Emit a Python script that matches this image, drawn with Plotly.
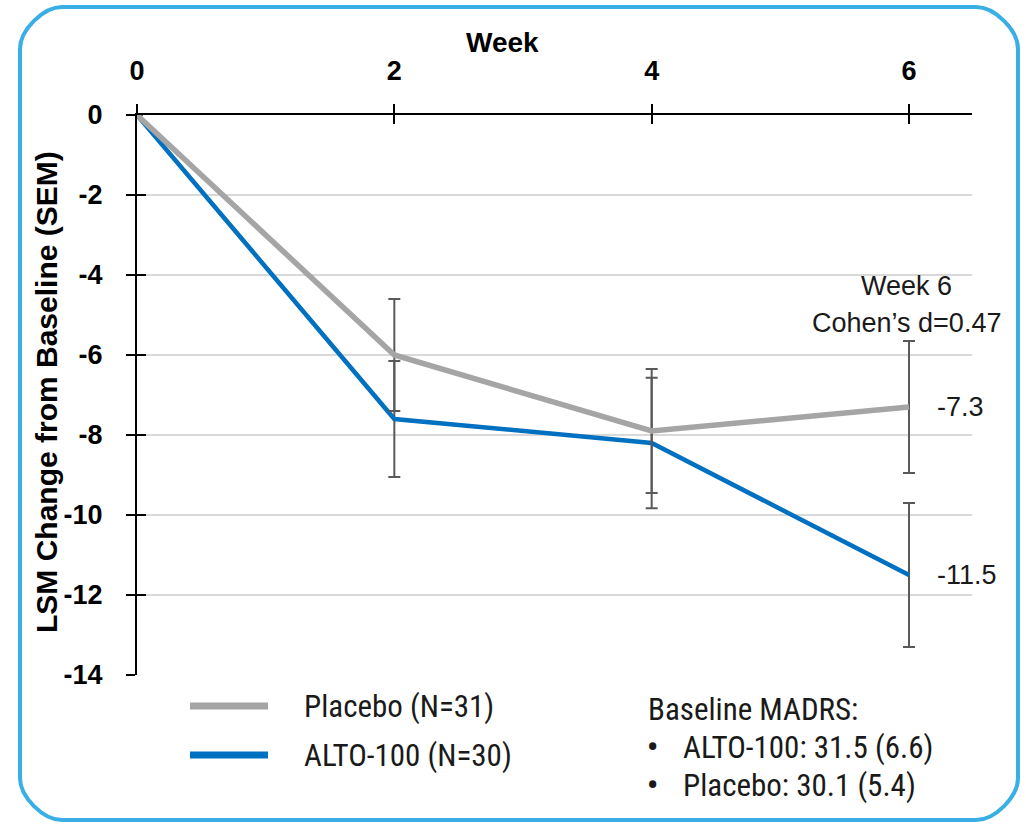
import plotly.graph_objects as go

weeks = [0, 2, 4, 6]
week_labels = ["0", "2", "4", "6"]
placebo = [0, -6.0, -7.9, -7.3]
placebo_sem = [None, 1.4, 1.55, 1.65]
alto = [0, -7.6, -8.2, -11.5]
alto_sem = [None, 1.45, 1.63, 1.8]
y_ticks = [0, -2, -4, -6, -8, -10, -12, -14]
legend_names = ["Placebo (N=31)", "ALTO-100 (N=30)"]
baseline_lines = ["Baseline MADRS:", "ALTO-100: 31.5 (6.6)", "Placebo: 30.1 (5.4)"]

W, H = 1026, 824
L, R, T, B = 137, 972, 115, 675

def px(x):
    return (x - L) / (R - L)

def py(y):
    return (B - y) / (B - T)

GRAY = "#A5A5A5"
BLUE = "#0070C0"
ERR = "#595959"
FONT = "Liberation Sans, Arial, sans-serif"
NARROW = "Liberation Sans Narrow, Roboto Condensed, Liberation Sans, Arial, sans-serif"
TXT = "#1a1a1a"

fig = go.Figure()
fig.add_trace(go.Scatter(
    x=weeks, y=alto, mode="lines", line=dict(color=BLUE, width=4.5),
    error_y=dict(type="data", array=alto_sem, color=ERR, thickness=2, width=6),
    showlegend=False, name=legend_names[1]))
fig.add_trace(go.Scatter(
    x=weeks, y=placebo, mode="lines", line=dict(color=GRAY, width=5.5),
    error_y=dict(type="data", array=placebo_sem, color=ERR, thickness=2, width=6),
    showlegend=False, name=legend_names[0]))
# invisible trace to anchor overlay axes (inner tick marks)
fig.add_trace(go.Scatter(x=weeks, y=placebo, xaxis="x2", yaxis="y2",
                         mode="lines", line=dict(width=0), opacity=0,
                         showlegend=False, hoverinfo="skip"))

xr = [0, 6 * (R - L) / (909 - L)]
yr = [-14, 0]

fig.update_layout(
    width=W, height=H,
    margin=dict(l=L, r=W - R, t=T, b=H - B),
    paper_bgcolor="white", plot_bgcolor="white",
    showlegend=False,
    xaxis=dict(range=xr, side="top", tickvals=weeks, ticktext=week_labels,
               showgrid=False, zeroline=False, showline=True, linecolor="black", linewidth=2,
               ticks="outside", ticklen=9, tickwidth=2, tickcolor="black",
               ticklabelstandoff=13,
               tickfont=dict(family=FONT, size=27, color="black", weight="bold")),
    yaxis=dict(range=yr, tickvals=y_ticks, ticktext=[str(v) for v in y_ticks],
               showgrid=True, gridcolor="#D9D9D9", gridwidth=2, zeroline=False,
               showline=True, linecolor="black", linewidth=2,
               ticks="outside", ticklen=9, tickwidth=2, tickcolor="black",
               ticklabelstandoff=18,
               tickfont=dict(family=FONT, size=27, color="black", weight="bold")),
    xaxis2=dict(range=xr, overlaying="x", side="top", tickvals=weeks,
                showticklabels=False, showgrid=False, zeroline=False, showline=False,
                ticks="inside", ticklen=9, tickwidth=2, tickcolor="black"),
    yaxis2=dict(range=yr, overlaying="y", side="left", tickvals=y_ticks,
                showticklabels=False, showgrid=False, zeroline=False, showline=False,
                ticks="inside", ticklen=9, tickwidth=2, tickcolor="black"),
)

def A(text, x, y, size, family=FONT, xanchor="center", angle=0, color=TXT):
    return dict(text=text, x=px(x), y=py(y), xref="paper", yref="paper",
                xanchor=xanchor, yanchor="middle", textangle=angle, showarrow=False,
                font=dict(family=family, size=size, color=color))

ann = []
ann.append(A("<b>Week</b>", 502, 42, 28, color="black"))
ann.append(A("<b>LSM Change from Baseline (SEM)</b>", 46, 392, 30, angle=-90, color="black"))
ann.append(A("Week 6", 906, 286, 27))
ann.append(A("Cohen’s d=0.47", 906, 323, 27))
ann.append(dict(text=f"{placebo[-1]:.1f}", x=weeks[-1], y=placebo[-1], xanchor="left",
                yanchor="middle", xshift=26, showarrow=False,
                font=dict(family=FONT, size=27, color=TXT)))
ann.append(dict(text=f"{alto[-1]:.1f}", x=weeks[-1], y=alto[-1], xanchor="left",
                yanchor="middle", xshift=26, showarrow=False,
                font=dict(family=FONT, size=27, color=TXT)))
# custom legend
ann.append(A(legend_names[0], 302, 706, 31, NARROW, "left"))
ann.append(A(legend_names[1], 302, 755, 31, NARROW, "left"))
ann.append(A(baseline_lines[0], 646, 709, 31, NARROW, "left"))
for txt, yy in zip(baseline_lines[1:], [747, 785]):
    ann.append(A("<b>•</b>", 645, yy, 31, NARROW, "left"))
    ann.append(A(txt, 681, yy, 31, NARROW, "left"))
fig.update_layout(annotations=ann)

shapes = []
shapes.append(dict(type="line", xref="paper", yref="paper", x0=px(190), x1=px(268),
                   y0=py(706), y1=py(706), line=dict(color=GRAY, width=7)))
shapes.append(dict(type="line", xref="paper", yref="paper", x0=px(190), x1=px(268),
                   y0=py(755), y1=py(755), line=dict(color=BLUE, width=7)))

# rounded border
bl, br, bt, bb, r = 20, 1018, 7, 820, 42
k = 0.45 * r
def P(x, y):
    return f"{px(x):.5f},{py(y):.5f}"
path = (f"M {P(bl + r, bt)} L {P(br - r, bt)} C {P(br - r + k, bt)} {P(br, bt + r - k)} {P(br, bt + r)} "
        f"L {P(br, bb - r)} C {P(br, bb - r + k)} {P(br - r + k, bb)} {P(br - r, bb)} "
        f"L {P(bl + r, bb)} C {P(bl + r - k, bb)} {P(bl, bb - r + k)} {P(bl, bb - r)} "
        f"L {P(bl, bt + r)} C {P(bl, bt + r - k)} {P(bl + r - k, bt)} {P(bl + r, bt)} Z")
shapes.append(dict(type="path", xref="paper", yref="paper", path=path,
                   line=dict(color="#3AAFE6", width=4), layer="below"))
fig.update_layout(shapes=shapes)

fig.write_html("out.html")
